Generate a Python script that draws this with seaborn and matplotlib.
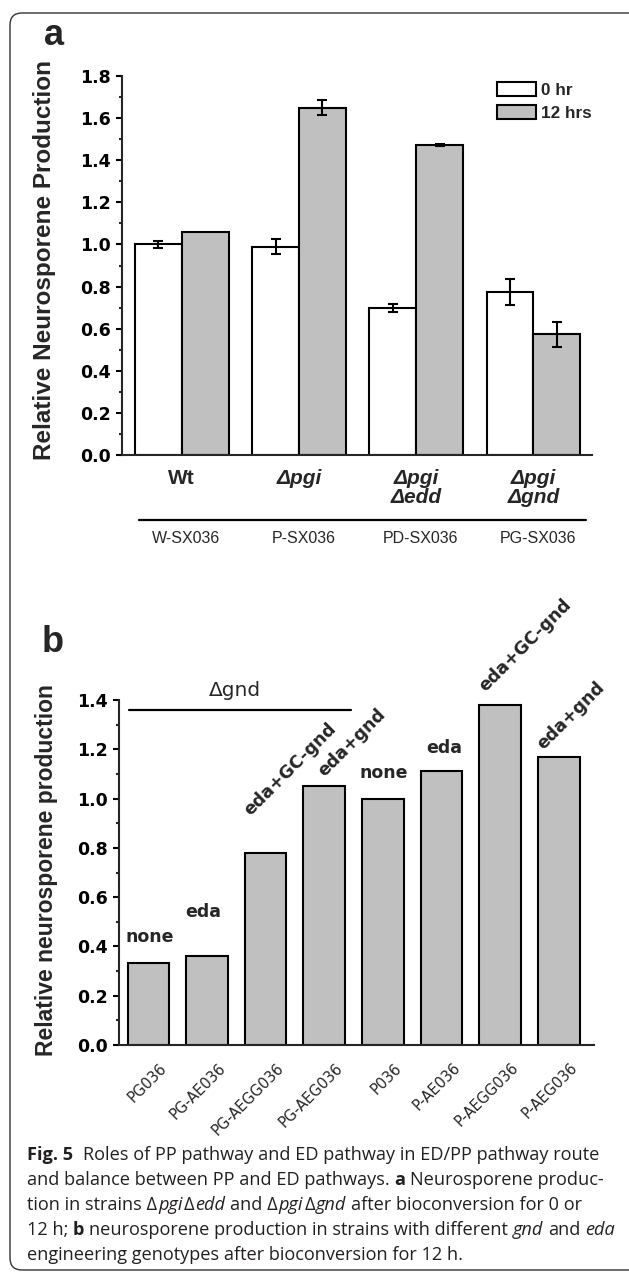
import numpy as np
import pandas as pd
import matplotlib
matplotlib.use("Agg")
import matplotlib.pyplot as plt
import seaborn as sns
from matplotlib.patches import FancyBboxPatch
from matplotlib.transforms import IdentityTransform, blended_transform_factory, ScaledTranslation

# ---------------- data ----------------
genotypes_a = ["Wt", "Δpgi", "Δpgi\nΔedd", "Δpgi\nΔgnd"]
strains_a = ["W-SX036", "P-SX036", "PD-SX036", "PG-SX036"]
times = ["0 hr", "12 hrs"]
vals_0hr = [1.00, 0.99, 0.697, 0.775]
err_0hr = [0.018, 0.034, 0.020, 0.062]
vals_12hr = [1.06, 1.65, 1.472, 0.573]
err_12hr = [0.0, 0.035, 0.006, 0.061]

strains_b = ["PG036", "PG-AE036", "PG-AEGG036", "PG-AEG036",
             "P036", "P-AE036", "P-AEGG036", "P-AEG036"]
values_b = [0.333, 0.36, 0.78, 1.05, 1.00, 1.11, 1.38, 1.17]
genotype_b = ["none", "eda", "eda+GC-gnd", "eda+gnd",
              "none", "eda", "eda+GC-gnd", "eda+gnd"]
group_b_label = "Δgnd"

caption_lines = [
    [("Fig. 5", "b"), ("  Roles of PP pathway and ED pathway in ED/PP pathway route", "r")],
    [("and balance between PP and ED pathways.", "r"), (" a", "b"), (" Neurosporene produc-", "r")],
    [("tion in strains Δ", "r"), ("pgi", "i"), ("Δ", "r"), ("edd", "i"), (" and Δ", "r"),
     ("pgi", "i"), ("Δ", "r"), ("gnd", "i"), (" after bioconversion for 0 or", "r")],
    [("12 h;", "r"), (" b", "b"), (" neurosporene production in strains with different", "r"),
     (" gnd", "i"), (" and", "r"), (" eda", "i")],
    [("engineering genotypes after bioconversion for 12 h.", "r")],
]

# ---------------- style ----------------
sns.set_style("ticks")
plt.rcParams["font.family"] = ["DejaVu Sans"]
plt.rcParams["axes.linewidth"] = 1.5

W, H = 629, 1274
GREY = "#C0C0C0"
fig = plt.figure(figsize=(W / 100, H / 100), dpi=100)
fig.patch.set_facecolor("white")


def ax_rect(l, t, r, b):
    return [l / W, 1 - b / H, (r - l) / W, (b - t) / H]


def style_axis(ax, ymax, ylabels_size=12.5):
    for s in ["top", "right"]:
        ax.spines[s].set_visible(False)
    ticks = np.round(np.arange(0, ymax + 1e-9, 0.2), 1)
    ax.set_yticks(ticks)
    ax.set_yticklabels([f"{t:.1f}" for t in ticks], fontweight="bold", fontsize=ylabels_size)
    ax.set_yticks(np.round(np.arange(0.1, ymax, 0.2), 1), minor=True)
    ax.tick_params(axis="y", which="major", direction="out", length=4, width=1.5, pad=4, colors="black")
    ax.tick_params(axis="y", which="minor", direction="out", length=2.5, width=1.5)
    ax.set_xlabel("")
    ax.set_ylabel("")
    ax.set_ylim(0, ymax)


# ---------------- panel a ----------------
axa = fig.add_axes(ax_rect(122, 76, 592, 455))
dfa = pd.DataFrame({
    "genotype": genotypes_a * 2,
    "time": [times[0]] * 4 + [times[1]] * 4,
    "value": vals_0hr + vals_12hr,
})
sns.barplot(data=dfa, x="genotype", y="value", hue="time", order=genotypes_a,
            hue_order=times, palette=["white", GREY], saturation=1,
            edgecolor="black", linewidth=1.5, errorbar=None, width=0.8, ax=axa)
handles, labels = axa.get_legend_handles_labels()
if axa.get_legend() is not None:
    axa.get_legend().remove()

for cont, errs in zip(axa.containers, [err_0hr, err_12hr]):
    xs, ys, es = [], [], []
    for bar, e in zip(cont, errs):
        if e > 0:
            xs.append(bar.get_x() + bar.get_width() / 2)
            ys.append(bar.get_height())
            es.append(e)
    axa.errorbar(xs, ys, yerr=es, fmt="none", ecolor="black", elinewidth=1.5,
                 capsize=3.5, capthick=1.5, zorder=5)

style_axis(axa, 1.8)
axa.set_xlim(-0.51, 3.5)
axa.set_xticks(range(len(genotypes_a)))
axa.set_xticklabels(genotypes_a, family="Liberation Sans", fontweight="bold",
                    fontsize=15, linespacing=1.0)
for i, lbl in enumerate(axa.get_xticklabels()):
    if i > 0:
        lbl.set_fontstyle("italic")
axa.tick_params(axis="x", length=0, pad=10)

trans_a = blended_transform_factory(axa.transData, axa.transAxes)
axa.plot([-0.367, 3.45], [-0.1715, -0.1715], transform=trans_a, clip_on=False,
         color="black", lw=1.6)
for i, s in enumerate(strains_a):
    axa.text(i + 0.04, -0.2216, s, transform=trans_a, ha="center", va="center",
             family="Liberation Sans", fontsize=11.5)

leg = axa.legend(handles, labels, loc="upper left",
                 bbox_to_anchor=(497 / W, 1 - 82 / H), bbox_transform=fig.transFigure,
                 frameon=False, borderpad=0, borderaxespad=0,
                 handlelength=2.3, handleheight=0.85, handletextpad=0.3,
                 labelspacing=0.45,
                 prop={"family": "Liberation Sans", "weight": "bold", "size": 12.3})

fig.text(45 / W, 1 - 259.5 / H, "Relative Neurosporene Production", rotation=90,
         ha="center", va="center", family="Liberation Sans", fontweight="bold", fontsize=17.5)
fig.text(44 / W, 1 - 45 / H, "a", ha="left", va="baseline", family="Liberation Sans",
         fontweight="bold", fontsize=26)

# ---------------- panel b ----------------
axb = fig.add_axes(ax_rect(119, 700, 594, 1045))
dfb = pd.DataFrame({"strain": strains_b, "value": values_b})
sns.barplot(data=dfb, x="strain", y="value", order=strains_b, color=GREY, saturation=1,
            edgecolor="black", linewidth=1.5, errorbar=None, width=0.71, ax=axb)
style_axis(axb, 1.4)
axb.set_xlim(-0.5, 7.6)
axb.set_xticks(range(len(strains_b)))
axb.set_xticklabels(strains_b, rotation=45, ha="right", rotation_mode="anchor", fontsize=10.5)
axb.tick_params(axis="x", length=0, pad=11)
for lbl in axb.get_xticklabels():
    lbl.set_transform(lbl.get_transform() + ScaledTranslation(11 / 100, 0, fig.dpi_scale_trans))

# group bar for Δgnd strains
axb.plot([-0.33, 3.45], [1.36, 1.36], color="black", lw=1.6, clip_on=False)
axb.text(1.48, 1.415, group_b_label, ha="center", va="baseline", fontsize=14.5)

# genotype annotations (layout offsets)
ann_rot = [0, 0, 45, 45, 0, 0, 45, 45]
ann_dx = [0.03, -0.06, -0.26, 0.0, 0.02, 0.05, -0.26, -0.26]
ann_dy = [0.087, 0.16, 0.15, 0.035, 0.084, 0.075, 0.05, 0.025]
for i, (bar, txt) in enumerate(zip(axb.containers[0], genotype_b)):
    xc = bar.get_x() + bar.get_width() / 2 + ann_dx[i]
    yv = bar.get_height() + ann_dy[i]
    if ann_rot[i]:
        axb.text(xc, yv, txt, rotation=45, rotation_mode="anchor", ha="left",
                 va="baseline", fontweight="bold", fontsize=12.5, clip_on=False)
    else:
        axb.text(xc, yv, txt, ha="center", va="baseline", fontweight="bold",
                 fontsize=12.5, clip_on=False)

fig.text(47 / W, 1 - 870 / H, "Relative neurosporene production", rotation=90,
         ha="center", va="center", family="Liberation Sans", fontweight="bold", fontsize=16.5)
fig.text(42 / W, 1 - 652 / H, "b", ha="left", va="baseline", family="Liberation Sans",
         fontweight="bold", fontsize=26)

# ---------------- caption ----------------
renderer = fig.canvas.get_renderer()
CAP_FONT = "Open Sans"
CAP_SIZE = 13.1
CAP_COLOR = "#231F20"


def text_width(s, **kw):
    t = fig.text(0, 0, s, **kw)
    w = t.get_window_extent(renderer).width
    t.remove()
    return w


space_w = text_width("a a", family=CAP_FONT, size=CAP_SIZE) - text_width("aa", family=CAP_FONT, size=CAP_SIZE)
baselines = [1160, 1185, 1210, 1235, 1260]
for line, yb in zip(caption_lines, baselines):
    x = 27.0
    first = True
    for txt, st in line:
        kw = dict(family=CAP_FONT, size=CAP_SIZE, color=CAP_COLOR)
        if st == "b":
            kw["fontweight"] = "bold"
        elif st == "i":
            kw["fontstyle"] = "italic"
        nlead = len(txt) - len(txt.lstrip(" "))
        if nlead:
            x += space_w * nlead
        elif not first:
            x += 1.0
        t = fig.text(x / W, 1 - yb / H, txt.strip(), ha="left", va="baseline", **kw)
        x += t.get_window_extent(renderer).width
        first = False

# ---------------- rounded border ----------------
border = FancyBboxPatch((10, H - 1270), 640, 1270 - 13,
                        boxstyle="round,pad=0,rounding_size=12",
                        transform=IdentityTransform(), facecolor="none",
                        edgecolor="#333333", linewidth=1.0)
fig.patches.append(border)

fig.savefig("out.png", dpi=100)
